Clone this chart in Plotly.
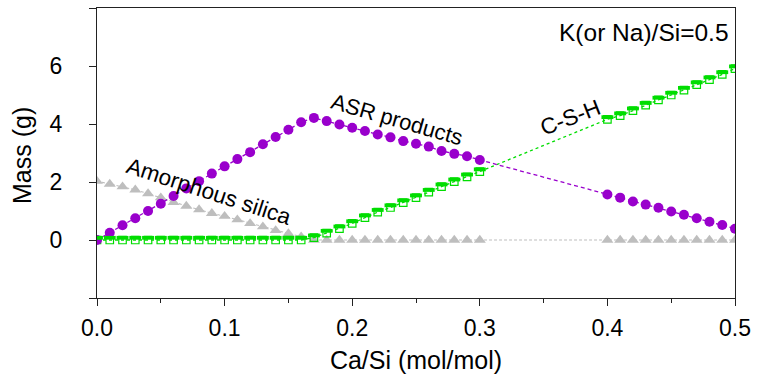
import plotly.graph_objects as go

# ---------------- data ----------------
ca_si = [0.00, 0.01, 0.02, 0.03, 0.04, 0.05, 0.06, 0.07, 0.08, 0.09,
         0.10, 0.11, 0.12, 0.13, 0.14, 0.15, 0.16, 0.17, 0.18, 0.19,
         0.20, 0.21, 0.22, 0.23, 0.24, 0.25, 0.26, 0.27, 0.28, 0.29,
         0.30,
         0.40, 0.41, 0.42, 0.43, 0.44, 0.45, 0.46, 0.47, 0.48, 0.49, 0.50]

asr_products = [0.00, 0.25, 0.51, 0.75, 1.00, 1.25, 1.52, 1.78, 2.03, 2.29,
                2.54, 2.79, 3.03, 3.30, 3.55, 3.80, 4.06, 4.21, 4.10, 3.98,
                3.87, 3.76, 3.64, 3.54, 3.41, 3.32, 3.22, 3.07, 2.97, 2.89,
                2.76,
                1.57, 1.46, 1.33, 1.22, 1.11, 0.98, 0.87, 0.75, 0.63, 0.52, 0.39]

csh = [0.00, 0.00, 0.00, 0.00, 0.00, 0.00, 0.00, 0.00, 0.00, 0.00,
       0.00, 0.00, 0.00, 0.00, 0.00, 0.00, 0.00, 0.08, 0.24, 0.39,
       0.57, 0.77, 0.96, 1.12, 1.29, 1.46, 1.65, 1.84, 2.01, 2.18,
       2.36,
       4.16, 4.29, 4.46, 4.65, 4.83, 5.00, 5.17, 5.36, 5.53, 5.71, 5.91]

amorphous_silica = [2.03, 1.93, 1.84, 1.73, 1.60, 1.46, 1.30, 1.17, 1.05, 0.92,
                    0.82, 0.70, 0.57, 0.46, 0.33, 0.22, 0.11, 0.00, 0.00, 0.00,
                    0.00, 0.00, 0.00, 0.00, 0.00, 0.00, 0.00, 0.00, 0.00, 0.00,
                    0.00,
                    0.00, 0.00, 0.00, 0.00, 0.00, 0.00, 0.00, 0.00, 0.00, 0.00, 0.00]

x_tickvals = [0.0, 0.1, 0.2, 0.3, 0.4, 0.5]
x_ticktext = ["0.0", "0.1", "0.2", "0.3", "0.4", "0.5"]
y_tickvals = [-2, 0, 2, 4, 6, 8]
y_ticktext = ["", "0", "2", "4", "6", ""]

# ---------------- style ----------------
FONT = "Liberation Sans, Arial, sans-serif"
PURPLE = "#9900CC"
GREEN = "#00DD00"
GREY = "#BEBEBE"
W, H = 758, 380
M = dict(l=97, r=20, t=7, b=82)
Y_RANGE = [-2, 8]
HALF_SHIFT_PX = 2.2  # pixel lift for the filled upper half of the square symbol
plot_h = H - M["t"] - M["b"]
shift = HALF_SHIFT_PX * (Y_RANGE[1] - Y_RANGE[0]) / plot_h

fig = go.Figure()

fig.add_trace(go.Scatter(
    x=ca_si, y=amorphous_silica, mode="lines+markers", name="Amorphous silica",
    line=dict(color=GREY, width=1.1, dash="3px,2px"),
    marker=dict(symbol="triangle-up", size=10.5, color=GREY),
))

fig.add_trace(go.Scatter(
    x=ca_si, y=csh, mode="lines+markers", name="C-S-H",
    line=dict(color=GREEN, width=1.3, dash="3px,3px"),
    marker=dict(symbol="square-open", size=7.5, color=GREEN,
                line=dict(color=GREEN, width=1.2)),
))
# filled upper half of the C-S-H symbols (drawn on a slightly shifted overlay axis)
fig.add_trace(go.Scatter(
    x=ca_si, y=csh, mode="markers", yaxis="y2", showlegend=False,
    marker=dict(symbol="line-ew", size=8.5, color=GREEN,
                line=dict(color=GREEN, width=3.8)),
))

fig.add_trace(go.Scatter(
    x=ca_si, y=asr_products, mode="lines+markers", name="ASR products",
    line=dict(color=PURPLE, width=1.3, dash="4px,3px"),
    marker=dict(symbol="circle", size=10, color=PURPLE),
))

axis_common = dict(
    showline=True, linecolor="#222", linewidth=1.2, mirror=True,
    ticks="outside", ticklen=7, tickwidth=1.2, tickcolor="#222",
    showgrid=False, zeroline=False,
    tickfont=dict(family=FONT, size=23, color="black"),
)

fig.update_layout(
    width=W, height=H, margin=M,
    paper_bgcolor="white", plot_bgcolor="white",
    showlegend=False,
    font=dict(family=FONT, color="black"),
    xaxis=dict(
        range=[0, 0.5], tickvals=x_tickvals, ticktext=x_ticktext,
        minor=dict(dtick=0.05, ticks="outside", ticklen=4, tickwidth=1.2, tickcolor="#222"),
        title=dict(text="Ca/Si (mol/mol)", font=dict(family=FONT, size=25), standoff=11),
        ticklabelstandoff=2,
        **axis_common,
    ),
    yaxis=dict(
        range=Y_RANGE, tickvals=y_tickvals, ticktext=y_ticktext,
        ticklabelstandoff=22,
        **axis_common,
    ),
    yaxis2=dict(
        range=[Y_RANGE[0] - shift, Y_RANGE[1] - shift], overlaying="y",
        visible=False, showgrid=False, zeroline=False,
    ),
)

# y-axis title
fig.add_annotation(x=0, y=0.5, xref="paper", yref="paper", text="Mass (g)",
                   textangle=-90, showarrow=False, xanchor="center", yanchor="middle",
                   xshift=-75, yshift=-3, font=dict(family=FONT, size=25, color="black"))

ann_font = dict(family=FONT, size=22.5, color="black")
fig.add_annotation(x=0.2348, y=4.14, xref="x", yref="y", text="ASR products",
                   textangle=16, showarrow=False, font=dict(family=FONT, size=22, color="black"))
fig.add_annotation(x=0.0874, y=1.66, xref="x", yref="y", text="Amorphous silica",
                   textangle=18, showarrow=False, font=ann_font)
fig.add_annotation(x=0.371, y=4.24, xref="x", yref="y", text="C-S-H",
                   textangle=-21, showarrow=False, font=ann_font)
fig.add_annotation(x=0.4965, y=7.14, xref="x", yref="y", text="K(or Na)/Si=0.5",
                   xanchor="right", showarrow=False,
                   font=dict(family=FONT, size=24.5, color="black"))

fig.write_html("out.html")
